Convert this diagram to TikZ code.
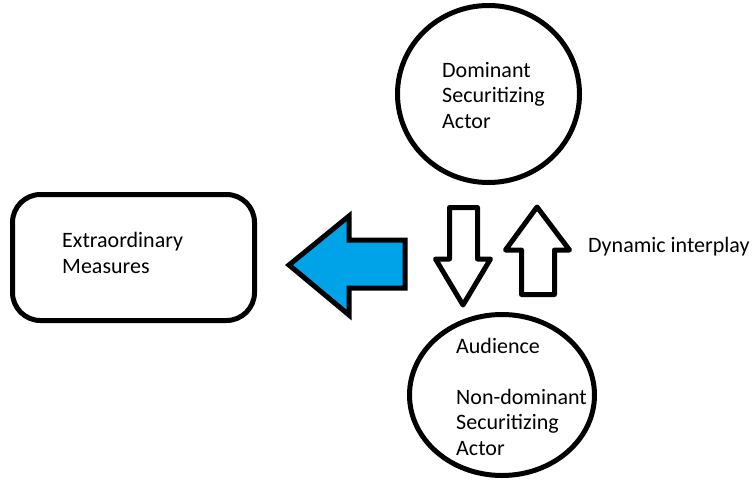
\documentclass[tikz,border=0pt]{standalone}
\usepackage{fontspec}
\setmainfont{Carlito}
\usetikzlibrary{shapes.geometric}
\definecolor{arrowblue}{HTML}{00A2E8}
\tikzset{
  outline/.style={draw=black, line width=5pt, line join=round},
  actor/.style={outline, ellipse, inner sep=0pt},
  % multi-line text: the base anchor sits on the last line
  txt/.style={anchor=base west, inner sep=0pt, align=left,
    font=\fontsize{22}{25.5}\selectfont},
}
\begin{document}
\begin{tikzpicture}[x=1pt, y=-1pt]
  \useasboundingbox (0,0) rectangle (752,482);

  % actors and measures
  \node[actor, minimum width=182pt, minimum height=177pt] (dom) at (488.5,94) {};
  \node[actor, minimum width=185pt, minimum height=161pt] (aud) at (502,395) {};
  \node[outline, rounded corners=28pt, minimum width=242pt, minimum height=126pt,
        inner sep=0pt] (ext) at (133.5,257.5) {};

  % texts
  \node[txt] (domtext) at (442,128) {Dominant\\Securitizing\\Actor};
  \node[txt] (audtext) at (456,455) {Audience\\[25.5pt]Non-dominant\\Securitizing\\Actor};
  \node[txt] (exttext) at (62,273) {Extraordinary\\Measures};
  \node[txt] (dyn) at (588,252) {Dynamic interplay};

  % block arrow towards the measures
  \draw[outline, fill=arrowblue, line join=miter]
    (289,265) -- (349,216) -- (349,240) -- (405,240) -- (405,288)
    -- (349,288) -- (349,315) -- cycle;

  % downward arrow
  \draw[outline, fill=white]
    (449.5,207.5) -- (477.5,207.5) -- (477.5,259) -- (490.5,259)
    -- (463,305) -- (435.5,259) -- (449.5,259) -- cycle;

  % upward arrow
  \draw[outline, fill=white]
    (537,207) -- (569.5,250) -- (554.5,250) -- (554.5,294.5)
    -- (521.5,294.5) -- (521.5,250) -- (505.5,250) -- cycle;
\end{tikzpicture}
\end{document}
